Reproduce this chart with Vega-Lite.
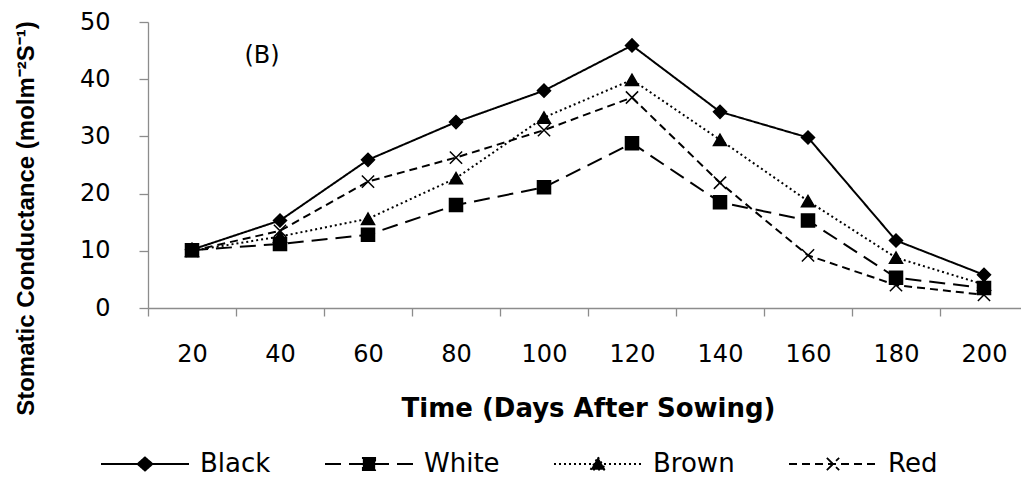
{
  "$schema": "https://vega.github.io/schema/vega-lite/v6.json",
  "width": 872,
  "height": 286,
  "autosize": "none",
  "padding": {"left": 148, "top": 22, "right": 1, "bottom": 170},
  "background": "white",
  "config": {
    "view": {"stroke": null},
    "axis": {
      "grid": false,
      "domainColor": "#8c8c8c",
      "tickColor": "#8c8c8c",
      "domainWidth": 1.3,
      "tickWidth": 1.3,
      "labelColor": "black",
      "labelFont": "DejaVu Sans",
      "labelFontSize": 24,
      "titleColor": "black"
    },
    "legend": {"symbolOpacity": 1, "symbolStrokeWidth": 1.8, "symbolStrokeColor": "black", "symbolFillColor": "black"}
  },
  "datasets": {
    "series": [
      {"day": 20, "cultivar": "Black", "value": 10.2},
      {"day": 40, "cultivar": "Black", "value": 15.3},
      {"day": 60, "cultivar": "Black", "value": 25.9},
      {"day": 80, "cultivar": "Black", "value": 32.5},
      {"day": 100, "cultivar": "Black", "value": 38.0},
      {"day": 120, "cultivar": "Black", "value": 45.9},
      {"day": 140, "cultivar": "Black", "value": 34.3},
      {"day": 160, "cultivar": "Black", "value": 29.8},
      {"day": 180, "cultivar": "Black", "value": 11.8},
      {"day": 200, "cultivar": "Black", "value": 5.8},
      {"day": 20, "cultivar": "White", "value": 10.1},
      {"day": 40, "cultivar": "White", "value": 11.2},
      {"day": 60, "cultivar": "White", "value": 12.8},
      {"day": 80, "cultivar": "White", "value": 18.0},
      {"day": 100, "cultivar": "White", "value": 21.1},
      {"day": 120, "cultivar": "White", "value": 28.8},
      {"day": 140, "cultivar": "White", "value": 18.5},
      {"day": 160, "cultivar": "White", "value": 15.3},
      {"day": 180, "cultivar": "White", "value": 5.3},
      {"day": 200, "cultivar": "White", "value": 3.5},
      {"day": 20, "cultivar": "Brown", "value": 10.0},
      {"day": 40, "cultivar": "Brown", "value": 12.5},
      {"day": 60, "cultivar": "Brown", "value": 15.6},
      {"day": 80, "cultivar": "Brown", "value": 22.7},
      {"day": 100, "cultivar": "Brown", "value": 33.3},
      {"day": 120, "cultivar": "Brown", "value": 39.9},
      {"day": 140, "cultivar": "Brown", "value": 29.4},
      {"day": 160, "cultivar": "Brown", "value": 18.7},
      {"day": 180, "cultivar": "Brown", "value": 8.8},
      {"day": 200, "cultivar": "Brown", "value": 4.1},
      {"day": 20, "cultivar": "Red", "value": 10.0},
      {"day": 40, "cultivar": "Red", "value": 13.5},
      {"day": 60, "cultivar": "Red", "value": 22.1},
      {"day": 80, "cultivar": "Red", "value": 26.3},
      {"day": 100, "cultivar": "Red", "value": 31.1},
      {"day": 120, "cultivar": "Red", "value": 36.8},
      {"day": 140, "cultivar": "Red", "value": 21.9},
      {"day": 160, "cultivar": "Red", "value": 9.2},
      {"day": 180, "cultivar": "Red", "value": 4.0},
      {"day": 200, "cultivar": "Red", "value": 2.3}
    ],
    "note": [
      {"day": 40, "value": 44, "label": "(B)"}
    ]
  },
  "layer": [
    {
      "data": {"name": "series"},
      "mark": {"type": "line", "color": "black", "strokeWidth": 2},
      "encoding": {
        "x": {
          "field": "day",
          "type": "ordinal",
          "scale": {"type": "band", "paddingInner": 0, "paddingOuter": 0, "range": [0, 880]},
          "axis": {
            "title": "Time (Days After Sowing)",
            "titleFont": "DejaVu Sans",
            "titleFontSize": 26,
            "titleFontWeight": "bold",
            "titleX": 440,
            "titleY": 100,
            "titleAlign": "center",
            "titleBaseline": "middle",
            "labelAngle": 0,
            "tickBand": "extent",
            "tickSize": 8,
            "labelPadding": 26
          }
        },
        "y": {
          "field": "value",
          "type": "quantitative",
          "scale": {"domain": [0, 50], "nice": false},
          "axis": {
            "title": "Stomatic Conductance (molm⁻²S⁻¹)",
            "titleFont": "Liberation Sans",
            "titleFontSize": 24,
            "titleFontWeight": "bold",
            "titleX": -122,
            "titleY": 196,
            "titleAngle": -90,
            "titleAlign": "center",
            "titleBaseline": "middle",
            "values": [0, 10, 20, 30, 40, 50],
            "tickSize": 9,
            "labelPadding": 29
          }
        },
        "strokeDash": {
          "field": "cultivar",
          "type": "nominal",
          "scale": {"domain": ["Black", "White", "Brown", "Red"], "range": [[1, 0], [16, 8], [2, 3], [8, 5]]},
          "legend": {
            "orient": "none",
            "legendX": -48,
            "legendY": 397,
            "direction": "horizontal",
            "columns": 4,
            "title": null,
            "padding": 0,
            "symbolSize": 7744,
            "labelFont": "DejaVu Sans",
            "labelFontSize": 26,
            "labelColor": "black",
            "labelOffset": 10,
            "columnPadding": 50
          }
        }
      }
    },
    {
      "data": {"name": "series"},
      "mark": {"type": "point", "filled": true, "color": "black", "stroke": "black", "strokeWidth": 1.8, "opacity": 0},
      "encoding": {
        "x": {"field": "day", "type": "ordinal"},
        "y": {"field": "value", "type": "quantitative"},
        "shape": {
          "field": "cultivar",
          "type": "nominal",
          "scale": {"domain": ["Black", "White", "Brown", "Red"], "range": ["M-1,0L1,0M-0.17,0L0,-0.15L0.17,0L0,0.15Z", "M-1,0L1,0M-0.14,-0.14L0.14,-0.14L0.14,0.14L-0.14,0.14Z", "M-1,0L1,0M-0.17,0.13L0,-0.16L0.17,0.13Z", "M-1,0L1,0M-0.14,-0.14L0.14,0.14M-0.14,0.14L0.14,-0.14"]},
          "legend": null
        }
      }
    },
    {
      "data": {"name": "series"},
      "transform": [{"filter": "datum.cultivar === 'Black'"}],
      "mark": {"type": "point", "shape": "diamond", "filled": true, "color": "black", "stroke": "black", "strokeWidth": 1.5, "opacity": 1, "size": 170},
      "encoding": {
        "x": {"field": "day", "type": "ordinal"},
        "y": {"field": "value", "type": "quantitative"}
      }
    },
    {
      "data": {"name": "series"},
      "transform": [{"filter": "datum.cultivar === 'White'"}],
      "mark": {"type": "point", "shape": "square", "filled": true, "color": "black", "stroke": "black", "strokeWidth": 1.5, "opacity": 1, "size": 170},
      "encoding": {
        "x": {"field": "day", "type": "ordinal"},
        "y": {"field": "value", "type": "quantitative"}
      }
    },
    {
      "data": {"name": "series"},
      "transform": [{"filter": "datum.cultivar === 'Brown'"}],
      "mark": {"type": "point", "shape": "triangle-up", "filled": true, "color": "black", "stroke": "black", "strokeWidth": 1.5, "opacity": 1, "size": 170},
      "encoding": {
        "x": {"field": "day", "type": "ordinal"},
        "y": {"field": "value", "type": "quantitative"}
      }
    },
    {
      "data": {"name": "series"},
      "transform": [{"filter": "datum.cultivar === 'Red'"}],
      "mark": {"type": "point", "shape": "M-1,-1L1,1M-1,1L1,-1", "filled": true, "color": "black", "stroke": "black", "strokeWidth": 1.5, "opacity": 1, "size": 150},
      "encoding": {
        "x": {"field": "day", "type": "ordinal"},
        "y": {"field": "value", "type": "quantitative"}
      }
    },
    {
      "data": {"name": "note"},
      "mark": {"type": "text", "font": "DejaVu Sans", "fontSize": 24, "dx": -18, "color": "black"},
      "encoding": {
        "x": {"field": "day", "type": "ordinal"},
        "y": {"field": "value", "type": "quantitative"},
        "text": {"field": "label"}
      }
    }
  ]
}
